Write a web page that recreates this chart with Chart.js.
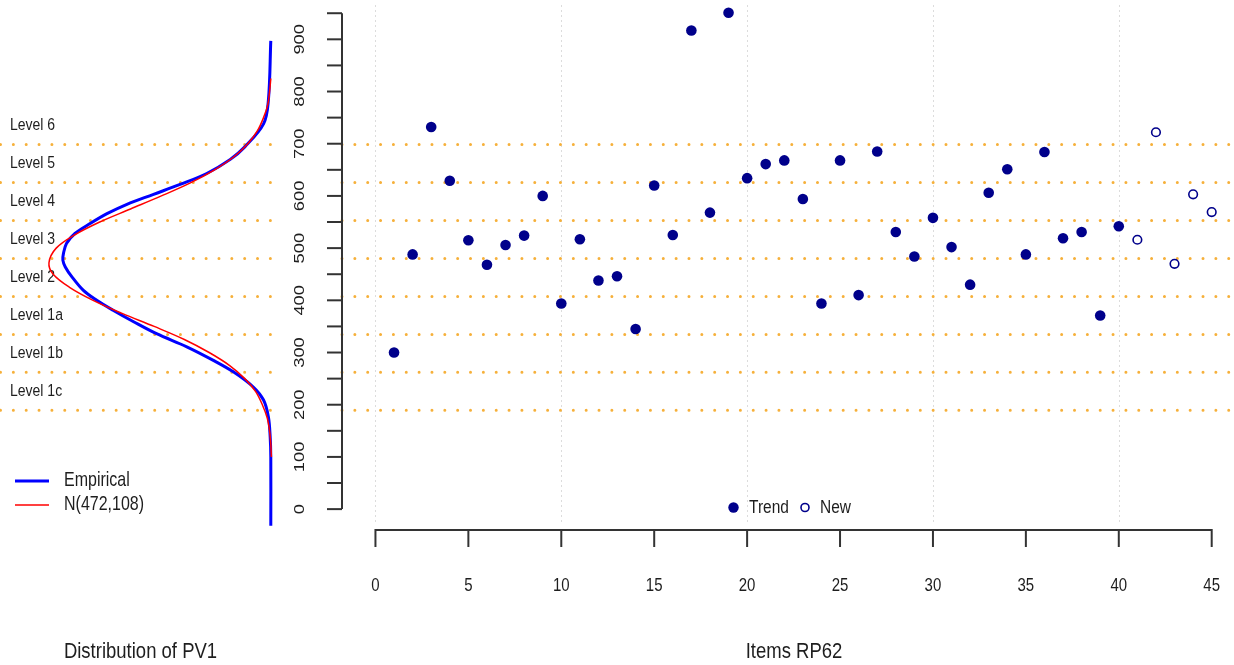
<!DOCTYPE html>
<html><head><meta charset="utf-8">
<script src="https://cdn.jsdelivr.net/npm/chart.js@4.4.1/dist/chart.umd.min.js"></script>
<style>
html,body{margin:0;padding:0;background:#fff;}
#wrap{position:relative;width:1234px;height:665px;background:#fff;}
canvas{position:absolute;left:0;top:0;}
</style></head><body>
<div id="wrap">
<canvas id="main" width="1234" height="665"></canvas>
<canvas id="dens" width="1234" height="665"></canvas>
</div>
<script>
// ---------- data ----------
const trendItems = [1,2,3,4,5,6,7,8,9,10,11,12,13,14,15,16,17,18,19,20,21,22,23,24,25,26,27,28,29,30,31,32,33,34,35,36,37,38,39,40];
const trendScores = [300,488,732,629,515,468,506,524,600,394,517,438,446,345,620,525,917,568,951,634,661,668,594,394,668,410,685,531,484,558,502,430,606,651,488,684,519,531,371,542];
const newItems = [41,42,43,44,45];
const newScores = [516,722,470,603,569];
const levelCuts = [189.33,262.04,334.75,407.47,480.18,552.89,625.61,698.32];
const levelNames = ['Level 1c','Level 1b','Level 1a','Level 2','Level 3','Level 4','Level 5','Level 6'];
const xTickValues = [0,5,10,15,20,25,30,35,40,45];
const xGridValues = [0,10,20,30,40];
const yTickValues = [0,100,200,300,400,500,600,700,800,900];
const yMinorTop = 950;
const empScore   = [-32,100,138,177,209,234,263,285,311,336,359,381,400,419,445,464,477,490,509,528,547,566,584,603,622,643,670,694,738,783,897];
const empDensity = [0.00002,0.00002,0.00003,0.00006,0.00014,0.00031,0.00064,0.00097,0.00141,0.00191,0.00229,0.00263,0.00290,0.00312,0.00331,0.00342,0.00346,0.00345,0.00340,0.00326,0.00301,0.00273,0.00240,0.00196,0.00152,0.00108,0.00069,0.00045,0.00014,0.00006,0.00002];
const normScore   = [100,125,150,175,200,225,250,275,300,325,350,375,400,425,450,472,500,525,550,575,600,625,650,675,700,725,750,775,800,825];
const normDensity = [0.00001,0.00002,0.00004,0.00008,0.00016,0.00027,0.00045,0.00070,0.00104,0.00145,0.00195,0.00248,0.00296,0.00335,0.00362,0.00369,0.00357,0.00327,0.00285,0.00234,0.00183,0.00135,0.00095,0.00063,0.00040,0.00024,0.00014,0.00007,0.00004,0.00002];

// ---------- helpers ----------
const SY = 1.22;
const FONT = '"Liberation Sans", Arial, sans-serif';
const INK = '#1e1e1e';
function txt(ctx, s, x, y, size, align, rot) {
  ctx.save();
  ctx.translate(x, y);
  ctx.scale(1, SY);
  if (rot) ctx.rotate(-Math.PI / 2);
  ctx.font = size + 'px ' + FONT;
  ctx.textAlign = align;
  ctx.textBaseline = 'middle';
  ctx.fillStyle = INK;
  ctx.fillText(s, 0, 0);
  ctx.restore();
}
function orangeDots(ctx, x0, x1, y) {
  ctx.save();
  ctx.strokeStyle = '#F6B03A';
  ctx.lineWidth = 3;
  ctx.lineCap = 'round';
  ctx.setLineDash([0.001, 12.85]);
  ctx.beginPath(); ctx.moveTo(x0, y); ctx.lineTo(x1, y); ctx.stroke();
  ctx.restore();
}
const Y_MIN = -40, Y_MAX = 960;
const PAD_TOP = 8, PAD_BOTTOM = 135;

// ---------- right panel ----------
const mainPlugin = {
  id: 'mainDeco',
  beforeDatasetsDraw(chart) {
    const ctx = chart.ctx, xs = chart.scales.x, ys = chart.scales.y, a = chart.chartArea;
    ctx.save();
    ctx.strokeStyle = '#dcdcdc'; ctx.lineWidth = 1; ctx.setLineDash([2, 3]);
    xGridValues.forEach(v => {
      const px = Math.round(xs.getPixelForValue(v)) + 0.5;
      ctx.beginPath(); ctx.moveTo(px, a.top - 3); ctx.lineTo(px, a.bottom - 5); ctx.stroke();
    });
    ctx.restore();
    levelCuts.forEach(c => orangeDots(ctx, a.left, a.right, ys.getPixelForValue(c)));
  },
  afterDraw(chart) {
    const ctx = chart.ctx, xs = chart.scales.x, ys = chart.scales.y, a = chart.chartArea;
    ctx.save();
    ctx.strokeStyle = '#333'; ctx.lineWidth = 2; ctx.lineCap = 'butt';
    const ax = a.left;
    ctx.beginPath(); ctx.moveTo(ax, ys.getPixelForValue(0)); ctx.lineTo(ax, ys.getPixelForValue(yMinorTop)); ctx.stroke();
    for (let v = 0; v <= yMinorTop; v += 50) {
      const py = ys.getPixelForValue(v);
      ctx.beginPath(); ctx.moveTo(ax - 15, py); ctx.lineTo(ax, py); ctx.stroke();
    }
    const ay = a.bottom;
    ctx.beginPath(); ctx.moveTo(xs.getPixelForValue(xTickValues[0]), ay); ctx.lineTo(xs.getPixelForValue(xTickValues[xTickValues.length-1]), ay); ctx.stroke();
    xTickValues.forEach(v => {
      const px = xs.getPixelForValue(v);
      ctx.beginPath(); ctx.moveTo(px, ay - 1); ctx.lineTo(px, ay + 17); ctx.stroke();
    });
    ctx.restore();
    yTickValues.forEach(v => txt(ctx, String(v), 300, ys.getPixelForValue(v), 15, 'center', true));
    xTickValues.forEach(v => txt(ctx, String(v), xs.getPixelForValue(v), 585.5, 15, 'center', false));
    txt(ctx, 'Items RP62', 794, 652, 18.5, 'center', false);
    ctx.save();
    ctx.fillStyle = '#00008B';
    ctx.beginPath(); ctx.arc(733.5, 507.5, 5.2, 0, Math.PI * 2); ctx.fill();
    ctx.strokeStyle = '#00008B'; ctx.lineWidth = 1.6;
    ctx.beginPath(); ctx.arc(805, 507.5, 4, 0, Math.PI * 2); ctx.stroke();
    ctx.restore();
    txt(ctx, 'Trend', 749, 507.5, 15.5, 'left', false);
    txt(ctx, 'New', 820, 507.5, 15.5, 'left', false);
  }
};

new Chart(document.getElementById('main'), {
  type: 'scatter',
  data: {
    datasets: [
      { label: 'Trend', data: trendItems.map((x, i) => ({x, y: trendScores[i]})),
        pointStyle: 'circle', pointRadius: 5.3, backgroundColor: '#00008B', borderColor: '#00008B', borderWidth: 0, clip: false },
      { label: 'New', data: newItems.map((x, i) => ({x, y: newScores[i]})),
        pointStyle: 'circle', pointRadius: 4.3, backgroundColor: 'rgba(0,0,0,0)', borderColor: '#00008B', borderWidth: 1.6, clip: false }
    ]
  },
  options: {
    responsive: false, animation: false, devicePixelRatio: 1,
    layout: { autoPadding: false, padding: { left: 342, right: 0, top: PAD_TOP, bottom: PAD_BOTTOM } },
    scales: {
      x: { type: 'linear', min: -1.8, max: 46.2, display: false },
      y: { type: 'linear', min: Y_MIN, max: Y_MAX, display: false }
    },
    plugins: { legend: { display: false }, tooltip: { enabled: false } },
    events: []
  },
  plugins: [mainPlugin]
});

// ---------- left panel (density) ----------
const densPlugin = {
  id: 'densDeco',
  beforeDatasetsDraw(chart) {
    const ctx = chart.ctx, ys = chart.scales.y, a = chart.chartArea;
    levelCuts.forEach(c => orangeDots(ctx, a.left + 0.5, a.right, ys.getPixelForValue(c)));
    levelNames.forEach((n, i) => {
      const lo = levelCuts[i];
      const hi = i + 1 < levelCuts.length ? levelCuts[i + 1] : levelCuts[i] + (levelCuts[i] - levelCuts[i - 1]);
      txt(ctx, n, 10, ys.getPixelForValue((lo + hi) / 2), 14, 'left', false);
    });
  },
  afterDraw(chart) {
    const ctx = chart.ctx;
    ctx.save();
    ctx.strokeStyle = '#0000FF'; ctx.lineWidth = 3;
    ctx.beginPath(); ctx.moveTo(15, 481); ctx.lineTo(49, 481); ctx.stroke();
    ctx.strokeStyle = '#FF0000'; ctx.lineWidth = 1.5;
    ctx.beginPath(); ctx.moveTo(15, 505); ctx.lineTo(49, 505); ctx.stroke();
    ctx.restore();
    txt(ctx, 'Empirical', 64, 481, 16, 'left', false);
    txt(ctx, 'N(472,108)', 64, 505, 16, 'left', false);
    txt(ctx, 'Distribution of PV1', 140.5, 652, 18.5, 'center', false);
  }
};

new Chart(document.getElementById('dens'), {
  type: 'scatter',
  data: {
    datasets: [
      { label: 'N(472,108)', data: normScore.map((y, i) => ({x: normDensity[i], y})),
        showLine: true, borderColor: '#FF0000', borderWidth: 1.5, pointRadius: 0, tension: 0.35, clip: false },
      { label: 'Empirical', data: empScore.map((y, i) => ({x: empDensity[i], y})),
        showLine: true, borderColor: '#0000FF', borderWidth: 3, pointRadius: 0, tension: 0.35, clip: false }
    ]
  },
  options: {
    responsive: false, animation: false, devicePixelRatio: 1,
    layout: { autoPadding: false, padding: { left: 0, right: 962, top: PAD_TOP, bottom: PAD_BOTTOM } },
    scales: {
      x: { type: 'linear', min: 0, max: 0.0045, reverse: true, display: false },
      y: { type: 'linear', min: Y_MIN, max: Y_MAX, display: false }
    },
    plugins: { legend: { display: false }, tooltip: { enabled: false } },
    events: []
  },
  plugins: [densPlugin]
});
</script>
</body></html>
